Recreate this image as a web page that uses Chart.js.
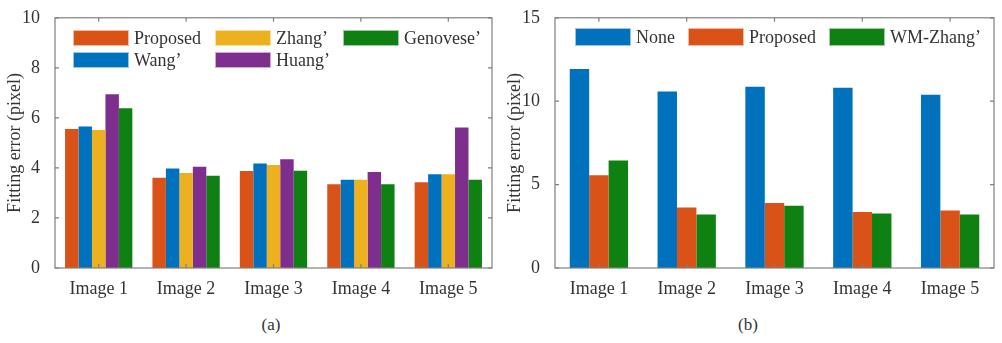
<!DOCTYPE html>
<html>
<head>
<meta charset="utf-8">
<script src="https://cdn.jsdelivr.net/npm/chart.js@4.4.0/dist/chart.umd.min.js"></script>
<style>
    body { margin: 0; background: #fff; width: 1002px; height: 343px; position: relative; overflow: hidden; }
    .box { position: absolute; top: 0; height: 312px; }
    .cap { position: absolute; top: 315px; width: 40px; text-align: center; font: 17px "Liberation Serif", serif; color: #333; }
</style>
</head>
<body>
<div class="box" style="left:0;width:500px"><canvas id="chartA"></canvas></div>
<div class="box" style="left:500px;width:502px"><canvas id="chartB"></canvas></div>
<div class="cap" style="left:251px">(a)</div>
<div class="cap" style="left:728px">(b)</div>
<script>
// categories
var images = ['Image 1', 'Image 2', 'Image 3', 'Image 4', 'Image 5'];

// (a) fitting error of the methods
var proposedA = [5.56, 3.61, 3.88, 3.35, 3.43];
var wangA     = [5.66, 3.98, 4.18, 3.53, 3.75];
var zhangA    = [5.52, 3.80, 4.12, 3.53, 3.75];
var huangA    = [6.94, 4.05, 4.35, 3.84, 5.62];
var genoveseA = [6.38, 3.69, 3.89, 3.35, 3.53];
var yTicksA = [0, 2, 4, 6, 8, 10];

// (b) none vs proposed vs WM-Zhang
var noneB     = [11.93, 10.58, 10.87, 10.80, 10.38];
var proposedB = [5.56, 3.63, 3.89, 3.36, 3.44];
var wmZhangB  = [6.45, 3.21, 3.73, 3.27, 3.20];
var yTicksB = [0, 5, 10, 15];

var blue = '#0072BD', orange = '#D95319', yellow = '#EDB120', purple = '#7E2F8E', green = '#0F8012';
var textColor = '#333';
var serif = '"Liberation Serif", "Times New Roman", serif';

// box around the plot, inward tick marks, and a legend inside the plot
var boxPlugin = {
    id: 'matlabBox',
    afterDraw: function(chart, args, opts) {
        var ctx = chart.ctx;
        var a = chart.chartArea;
        var x = chart.scales.x, y = chart.scales.y;
        ctx.save();
        ctx.strokeStyle = '#7f7f7f';
        ctx.lineWidth = 1.2;
        ctx.strokeRect(a.left, a.top, a.right - a.left, a.bottom - a.top);
        ctx.beginPath();
        y.ticks.forEach(function(t) {
            var py = y.getPixelForValue(t.value);
            ctx.moveTo(a.left, py); ctx.lineTo(a.left + 4, py);
            ctx.moveTo(a.right, py); ctx.lineTo(a.right - 4, py);
        });
        x.ticks.forEach(function(t, i) {
            var px = x.getPixelForTick(i);
            ctx.moveTo(px, a.bottom); ctx.lineTo(px, a.bottom - 4);
            ctx.moveTo(px, a.top); ctx.lineTo(px, a.top + 4);
        });
        ctx.stroke();

        // legend
        ctx.font = '18px ' + serif;
        ctx.textBaseline = 'middle';
        ctx.textAlign = 'left';
        opts.slots.forEach(function(s) {
            var ds = chart.data.datasets[s.ds];
            ctx.fillStyle = ds.backgroundColor;
            ctx.fillRect(s.x, s.y, opts.boxW, opts.boxH);
            ctx.strokeStyle = 'rgba(255,255,255,0.6)';
            ctx.lineWidth = 1;
            ctx.strokeRect(s.x + 0.5, s.y + 0.5, opts.boxW - 1, opts.boxH - 1);
            ctx.fillStyle = textColor;
            ctx.fillText(ds.label, s.x + opts.boxW + 5, s.y + opts.boxH / 2 + 1);
        });
        ctx.restore();
    }
};

function makeChart(id, datasets, yTicks, catPct, slots, boxH) {
    var ctx = document.getElementById(id).getContext('2d');
    return new Chart(ctx, {
        type: 'bar',
        data: { labels: images, datasets: datasets },
        plugins: [boxPlugin],
        options: {
            responsive: true,
            maintainAspectRatio: false,
            animation: false,
            layout: { padding: { top: 16, right: 8, left: 0, bottom: 0 } },
            datasets: { bar: { categoryPercentage: catPct, barPercentage: 1, borderWidth: 0 } },
            plugins: {
                legend: { display: false },
                tooltip: { enabled: false },
                matlabBox: { slots: slots, boxW: 56, boxH: boxH }
            },
            scales: {
                x: {
                    grid: { display: false },
                    border: { display: false },
                    ticks: { color: textColor, font: { family: serif, size: 18 }, padding: 2 },
                    afterFit: function(s) { s.height = 44; }
                },
                y: {
                    min: yTicks[0],
                    max: yTicks[yTicks.length - 1],
                    grid: { display: false },
                    border: { display: false },
                    ticks: { stepSize: yTicks[1] - yTicks[0], color: textColor, font: { family: serif, size: 18 }, padding: 7 },
                    title: { display: true, text: 'Fitting error (pixel)', color: textColor, font: { family: serif, size: 18 }, padding: { top: 4, bottom: 0 } },
                    afterFit: function(s) { s.width = 55; }
                }
            }
        }
    });
}

makeChart('chartA', [
    { label: 'Proposed', data: proposedA, backgroundColor: orange },
    { label: 'Wang\u2019', data: wangA, backgroundColor: blue },
    { label: 'Zhang\u2019', data: zhangA, backgroundColor: yellow },
    { label: 'Huang\u2019', data: huangA, backgroundColor: purple },
    { label: 'Genovese\u2019', data: genoveseA, backgroundColor: green }
], yTicksA, 0.77, [
    { ds: 0, x: 73, y: 30 }, { ds: 2, x: 215, y: 30 }, { ds: 4, x: 343, y: 30 },
    { ds: 1, x: 73, y: 52 }, { ds: 3, x: 215, y: 52 }
], 16);

makeChart('chartB', [
    { label: 'None', data: noneB, backgroundColor: blue },
    { label: 'Proposed', data: proposedB, backgroundColor: orange },
    { label: 'WM-Zhang\u2019', data: wmZhangB, backgroundColor: green }
], yTicksB, 0.664, [
    { ds: 0, x: 75, y: 28 }, { ds: 1, x: 188, y: 28 }, { ds: 2, x: 329, y: 28 }
], 18);
</script>
</body>
</html>
